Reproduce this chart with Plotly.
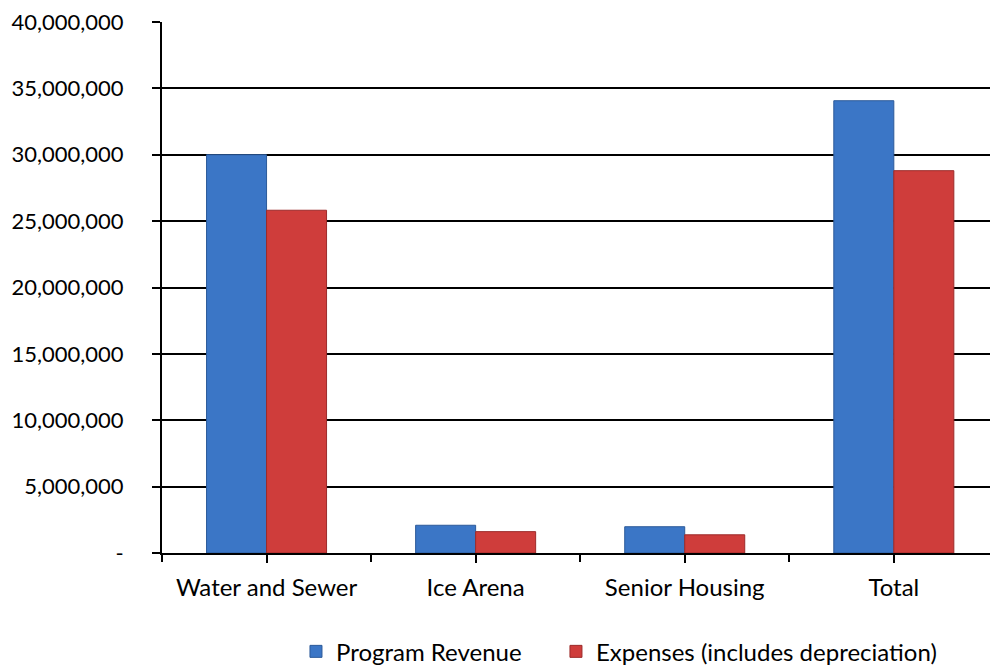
import plotly.graph_objects as go

categories = ["Water and Sewer", "Ice Arena", "Senior Housing", "Total"]
program_revenue = [30000000, 2090000, 1980000, 34070000]
expenses = [25820000, 1610000, 1370000, 28800000]
ytick_vals = [0, 5000000, 10000000, 15000000, 20000000, 25000000, 30000000, 35000000, 40000000]
ytick_text = ["-", "5,000,000", "10,000,000", "15,000,000", "20,000,000",
              "25,000,000", "30,000,000", "35,000,000", "40,000,000"]

FONT = "Lato, 'Open Sans', sans-serif"

fig = go.Figure()
fig.add_trace(go.Bar(
    x=categories, y=program_revenue, name="Program Revenue", legend="legend",
    marker=dict(color="#3b76c6", line=dict(color="#2c5a99", width=1)),
))
fig.add_trace(go.Bar(
    x=categories, y=expenses, name="Expenses (includes depreciation)", legend="legend2",
    marker=dict(color="#cf3d3b", line=dict(color="#9c2b2a", width=1)),
))
# invisible trace on an overlaid axis to draw the category-boundary tick marks
fig.add_trace(go.Scatter(
    x=categories, y=[None] * len(categories), xaxis="x2", yaxis="y",
    showlegend=False, hoverinfo="skip", mode="markers",
))

xr = [-0.5, 3.46]
leg_common = dict(orientation="h", xanchor="left", y=-0.186, yanchor="middle",
                  font=dict(size=24), itemwidth=30, bgcolor="rgba(0,0,0,0)")
fig.update_layout(
    width=990, height=665,
    margin=dict(l=162, r=0, t=22, b=112, autoexpand=False),
    paper_bgcolor="white", plot_bgcolor="white",
    barmode="group", bargap=0.426, bargroupgap=0,
    font=dict(family=FONT, size=22, color="black"),
    xaxis=dict(
        type="category", range=xr, showgrid=False,
        showline=True, linecolor="black", linewidth=2,
        ticks="outside", ticklen=8, tickwidth=2, tickcolor="black",
        tickfont=dict(size=24), ticklabelstandoff=4,
    ),
    xaxis2=dict(
        type="category", range=xr, overlaying="x", anchor="y", side="bottom",
        showgrid=False, showline=False, tickson="boundaries",
        ticks="outside", ticklen=8, tickwidth=2, tickcolor="black",
        showticklabels=False,
    ),
    yaxis=dict(
        range=[0, 40000000], tickvals=ytick_vals, ticktext=ytick_text,
        showgrid=True, gridcolor="black", gridwidth=1.5,
        showline=True, linecolor="black", linewidth=2,
        ticks="outside", ticklen=8, tickwidth=1.5, tickcolor="black",
        tickfont=dict(size=22), ticklabelstandoff=24, zeroline=False,
    ),
    legend=dict(x=0.1618, **leg_common),
    legend2=dict(x=0.4758, **leg_common),
)

fig.write_html("out.html")
